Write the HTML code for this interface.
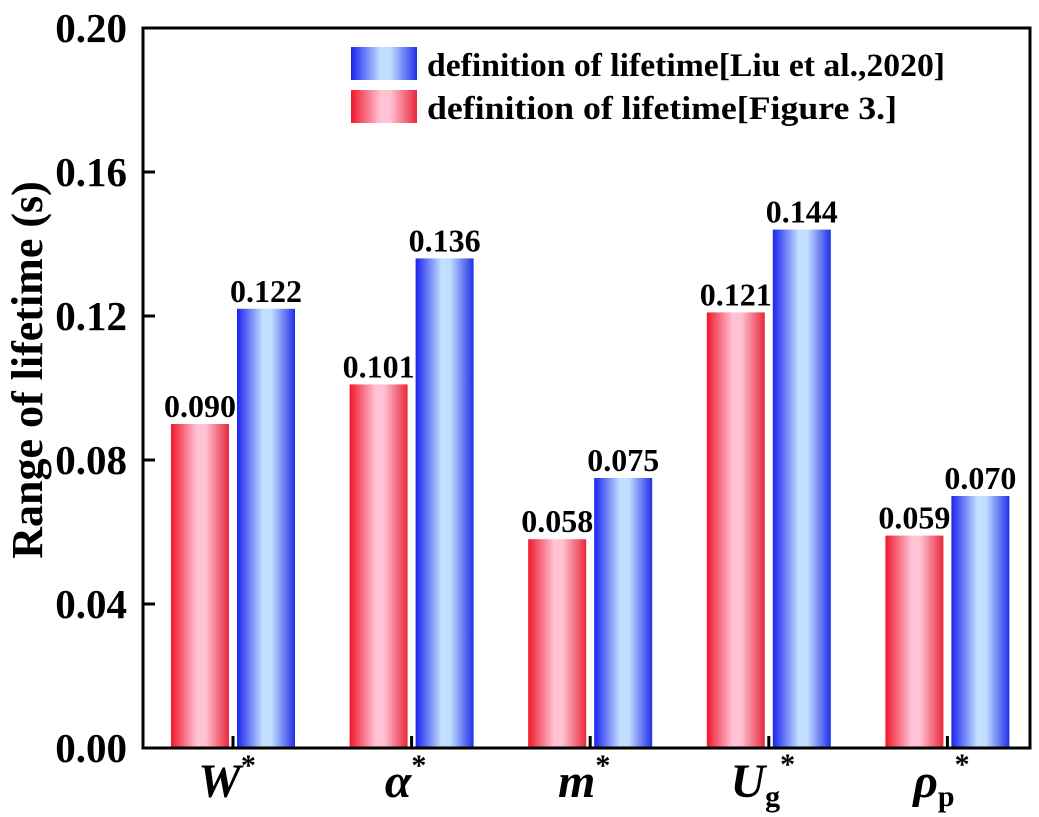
<!DOCTYPE html>
<html><head><meta charset="utf-8"><style>
html,body{margin:0;padding:0;background:#fff;}
svg{display:block;font-family:"Liberation Serif",serif;}
</style></head><body>
<svg id="chart" width="1039" height="817" viewBox="0 0 1039 817">
<defs>
<linearGradient id="gr" x1="0" x2="1" y1="0" y2="0">
<stop offset="0" stop-color="#f0182c"/><stop offset="0.45" stop-color="#ffc4d6"/><stop offset="0.6" stop-color="#ffc0d2"/><stop offset="1" stop-color="#e8283a"/>
</linearGradient>
<linearGradient id="gb" x1="0" x2="1" y1="0" y2="0">
<stop offset="0" stop-color="#1a24f0"/><stop offset="0.45" stop-color="#c4e0ff"/><stop offset="0.6" stop-color="#c0dcff"/><stop offset="1" stop-color="#2030e8"/>
</linearGradient>
</defs>
<g id="bars"></g>
<g id="axes"></g>
<g id="legend">
<rect x="351" y="47" width="66" height="33" fill="url(#gb)"/>
<text x="427" y="76" font-size="33" font-weight="bold" textLength="518" lengthAdjust="spacingAndGlyphs">definition of lifetime[Liu et al.,2020]</text>
<rect x="351" y="90" width="66" height="33" fill="url(#gr)"/>
<text x="427" y="119" font-size="33" font-weight="bold" textLength="470" lengthAdjust="spacingAndGlyphs">definition of lifetime[Figure 3.]</text>
</g>
<text transform="translate(42,370) rotate(-90)" text-anchor="middle" font-size="44" font-weight="bold">Range of lifetime (s)</text>
</svg>
<script>
const categories = ["W","α","m","U","ρ"];
const catSubs = ["","","","g","p"];
const redValues = [0.090, 0.101, 0.058, 0.121, 0.059];
const blueValues = [0.122, 0.136, 0.075, 0.144, 0.070];
const redLabels = ["0.090","0.101","0.058","0.121","0.059"];
const blueLabels = ["0.122","0.136","0.075","0.144","0.070"];
const yTicks = [0, 0.04, 0.08, 0.12, 0.16, 0.20];
const yTickLabels = ["0.00","0.04","0.08","0.12","0.16","0.20"];

const NS = "http://www.w3.org/2000/svg";
const L = 143, R = 1030, T = 28, B = 748;
const yScale = v => B - (v / 0.20) * (B - T);
const xCenter = i => 233 + i * 178.6;
function mk(tag, attrs, parent) {
  const e = document.createElementNS(NS, tag);
  for (const k in attrs) e.setAttribute(k, attrs[k]);
  parent.appendChild(e);
  return e;
}
const bars = document.getElementById('bars');
const axes = document.getElementById('axes');
const bw = 58;
categories.forEach((c, i) => {
  const cx = xCenter(i);
  const yr = yScale(redValues[i]);
  const r = mk('rect', {x: cx - 62, y: yr, width: bw, height: B - yr, fill: 'url(#gr)'}, bars);
  
  
  const yb = yScale(blueValues[i]);
  const b = mk('rect', {x: cx + 4, y: yb, width: bw, height: B - yb, fill: 'url(#gb)'}, bars);
  
  
  const tr = mk('text', {x: cx - 33, y: yr - 7, 'text-anchor': 'middle', 'font-size': 32, 'font-weight': 'bold'}, bars);
  tr.textContent = redLabels[i];
  
  
  const tb = mk('text', {x: cx + 33, y: yb - 7, 'text-anchor': 'middle', 'font-size': 32, 'font-weight': 'bold'}, bars);
  tb.textContent = blueLabels[i];
  
  
  const tk = mk('line', {x1: cx, x2: cx, y1: B, y2: B - 12, stroke: '#000', 'stroke-width': 3}, axes);
  
  
  const xl = mk('text', {x: cx - 6, y: 797, 'text-anchor': 'middle', 'font-size': 48, 'font-weight': 'bold', 'font-style': 'italic'}, axes);
  
  
  xl.appendChild(document.createTextNode(c));
  if (catSubs[i]) {
    const s = mk('tspan', {'font-size': 30, 'font-style': 'normal', dy: 9}, xl);
    s.textContent = catSubs[i];
    const st = mk('tspan', {'font-size': 30, 'font-style': 'normal', dy: -32}, xl);
    st.textContent = '*';
  } else {
    const st = mk('tspan', {'font-size': 30, 'font-style': 'normal', dy: -22}, xl);
    st.textContent = '*';
  }
});
yTicks.forEach((v, i) => {
  const y = yScale(v);
  if (i > 0 && i < yTicks.length - 1) {
    const t = mk('line', {x1: L, x2: L + 12, y1: y, y2: y, stroke: '#000', 'stroke-width': 3}, axes);
    
    
  }
  const lb = mk('text', {x: 127, y: y + 14, 'text-anchor': 'end', 'font-size': 41, 'font-weight': 'bold'}, axes);
  lb.textContent = yTickLabels[i];
  
  
});
const frame = mk('rect', {x: L, y: T, width: R - L, height: B - T, fill: 'none', stroke: '#000', 'stroke-width': 3}, axes);


</script>
</body></html>
